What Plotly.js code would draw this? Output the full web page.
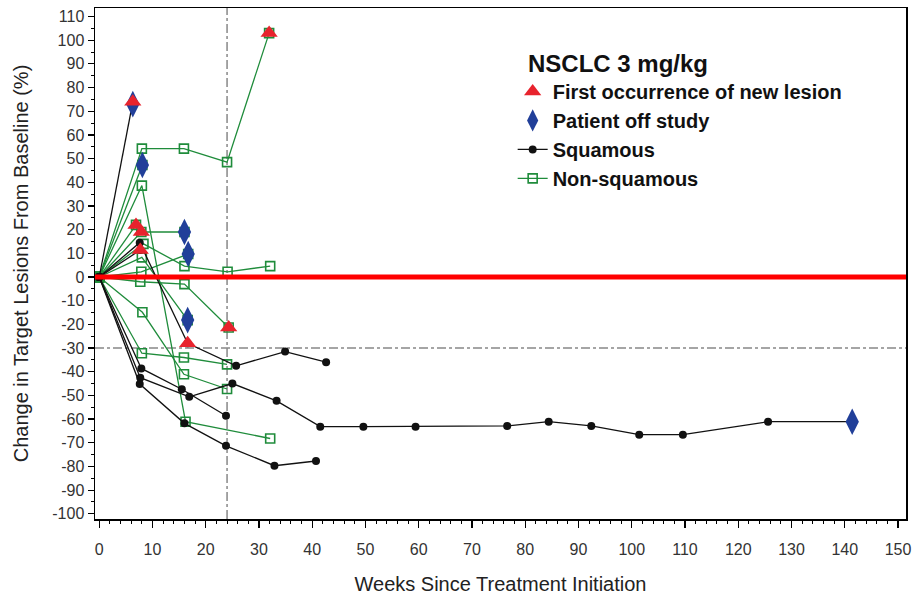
<!DOCTYPE html>
<html>
<head>
<meta charset="utf-8">
<script src="https://cdn.plot.ly/plotly-3.0.1.min.js"></script>
<style>html,body{margin:0;padding:0;background:#fff}#chart{width:917px;height:598px}</style>
</head>
<body>
<div id="chart"></div>
<script>
// Squamous patients (weeks, % change)
const sq1W = [0, 6.3], sq1V = [0, 74];
const sq2W = [0, 7.6, 16.6, 25.7, 34.9, 42.6], sq2V = [0, 14.5, -28, -37.5, -31.5, -36];
const sq3W = [0, 7.7], sq3V = [0, 11.4];
const sq4W = [0, 7.9, 15.5, 23.8], sq4V = [0, -38.6, -47.4, -58.6];
const sq5W = [0, 7.7, 16.9, 25.0, 33.3, 41.5, 49.6, 59.4, 76.6, 84.4, 92.4, 101.4, 109.6, 125.6, 141.4];
const sq5V = [0, -42.5, -50.6, -45, -52.3, -63.2, -63.2, -63.2, -62.9, -61.1, -62.9, -66.6, -66.6, -61.1, -61.1];
const sq6W = [0, 7.6, 16, 23.8, 32.9, 40.7], sq6V = [0, -45.2, -61.8, -71.3, -79.7, -77.7];

// Non-squamous patients
const ns1W = [0, 8, 15.9, 24, 31.9], ns1V = [0, 54.2, 54.2, 48.5, 103];
const ns2W = [0, 8.1], ns2V = [0, 47.3];
const ns3W = [0, 8, 16.2, 32.1], ns3V = [0, 38.6, -61.1, -68.2];
const ns4W = [0, 7.9, 16], ns4V = [0, 19, 19];
const ns5W = [0, 6.9], ns5V = [0, 22];
const ns6W = [0, 8.3, 16, 24.1, 32.1], ns6V = [0, 14, 4.6, 2.2, 4.6];
const ns7W = [0, 8, 16.6], ns7V = [0, 8.3, -18.2];
const ns8W = [0, 7.9, 16.7], ns8V = [0, 2.2, 9.7];
const ns9W = [0, 7.7, 16, 24.3], ns9V = [0, -2, -3, -21.3];
const ns10W = [0, 8.1, 15.9, 24], ns10V = [0, -14.9, -41.1, -47.3];
const ns11W = [0, 8, 15.9, 24], ns11V = [0, -32.2, -34, -36.9];

// Event markers
const newLesionW = [6.3, 6.9, 7.9, 7.7, 16.6, 24.3, 31.9];
const newLesionV = [74, 22, 19, 11.4, -28, -21.3, 103];
const offStudyW = [6.3, 8.1, 16, 16.7, 16.6, 141.4];
const offStudyV = [73, 47.3, 19, 9.7, -18.2, -61.1];

const xTicks = [0,10,20,30,40,50,60,70,80,90,100,110,120,130,140,150];
const yTicks = [110,100,90,80,70,60,50,40,30,20,10,0,-10,-20,-30,-40,-50,-60,-70,-80,-90,-100];

const GREEN = '#1f8c3b', BLACK = '#111111';
const traces = [];
const sq = [[sq1W,sq1V],[sq2W,sq2V],[sq3W,sq3V],[sq4W,sq4V],[sq5W,sq5V],[sq6W,sq6V]];
const ns = [[ns1W,ns1V],[ns2W,ns2V],[ns3W,ns3V],[ns4W,ns4V],[ns5W,ns5V],[ns6W,ns6V],[ns7W,ns7V],[ns8W,ns8V],[ns9W,ns9V],[ns10W,ns10V],[ns11W,ns11V]];
ns.forEach((p,i)=>traces.push({x:p[0],y:p[1],type:'scatter',mode:'lines+markers',
  name:'<b>Non-squamous</b>',legendgroup:'d',legendrank:4,showlegend:i===0,
  line:{color:GREEN,width:1.3},marker:{symbol:'square-open',size:9,color:GREEN,line:{width:1.6,color:GREEN}}}));
sq.forEach((p,i)=>traces.push({x:p[0],y:p[1],type:'scatter',mode:'lines+markers',
  name:'<b>Squamous</b>',legendgroup:'c',legendrank:3,showlegend:i===0,
  line:{color:BLACK,width:1.3},marker:{symbol:'circle',size:8,color:BLACK}}));
traces.push({x:offStudyW,y:offStudyV,type:'scatter',mode:'markers',name:'<b>Patient off study</b>',
  legendgroup:'b',legendrank:2,marker:{symbol:'diamond-tall',size:19,color:'#213f99'}});
traces.push({x:newLesionW,y:newLesionV,type:'scatter',mode:'markers',name:'<b>First occurrence of new lesion</b>',
  legendgroup:'a',legendrank:1,marker:{symbol:'triangle-up',size:15,color:'#e8232d'}});

const layout = {
  width:917, height:598,
  margin:{l:95,r:11,t:8,b:79},
  paper_bgcolor:'#fff', plot_bgcolor:'#fff',
  font:{family:'Arial, Liberation Sans, sans-serif',color:'#222'},
  showlegend:true,
  legend:{x:0.515,y:0.936,xanchor:'left',yanchor:'top',bgcolor:'rgba(255,255,255,0)',
    traceorder:'grouped',tracegroupgap:0,
    font:{size:20,color:'#111'},
    title:{text:'<b>&nbsp;&nbsp;NSCLC 3 mg/kg</b>',side:'top',font:{size:24,color:'#111'}}},
  xaxis:{range:[-0.8,151.5],tickvals:xTicks,ticktext:xTicks.map(String),ticks:'outside',ticklen:7,tickwidth:1.2,
    tickcolor:'#000',showline:true,linecolor:'#000',linewidth:1.5,mirror:true,showgrid:false,zeroline:false,
    minor:{dtick:2,tick0:0,ticks:'outside',ticklen:3,tickcolor:'#000',tickwidth:1},
    tickfont:{size:16,color:'#333'},ticklabelstandoff:8,
    title:{text:'Weeks Since Treatment Initiation',font:{size:20,color:'#222'},standoff:20}},
  yaxis:{range:[-102.2,113.6],tickvals:yTicks,ticktext:yTicks.map(String),ticks:'outside',ticklen:6,tickwidth:1.2,
    tickcolor:'#000',showline:true,linecolor:'#000',linewidth:1.5,mirror:true,showgrid:false,zeroline:false,
    minor:{dtick:5,tick0:0,ticks:'outside',ticklen:3,tickcolor:'#000',tickwidth:1},
    tickfont:{size:16,color:'#333'},
    title:{text:'Change in Target Lesions From Baseline (%)',font:{size:20,color:'#222'},standoff:18}},
  shapes:[
    {type:'line',xref:'x',yref:'paper',x0:24,x1:24,y0:0,y1:1,line:{color:'#888',width:1.5,dash:'dashdot'},layer:'below'},
    {type:'line',xref:'paper',yref:'y',x0:0,x1:1,y0:-30,y1:-30,line:{color:'#888',width:1.5,dash:'dashdot'},layer:'below'},
    {type:'line',xref:'paper',yref:'y',x0:0,x1:1,y0:0,y1:0,line:{color:'#ff0000',width:5},layer:'above'}
  ]
};
Plotly.newPlot('chart', traces, layout, {displayModeBar:false, staticPlot:true});
</script>
</body>
</html>
